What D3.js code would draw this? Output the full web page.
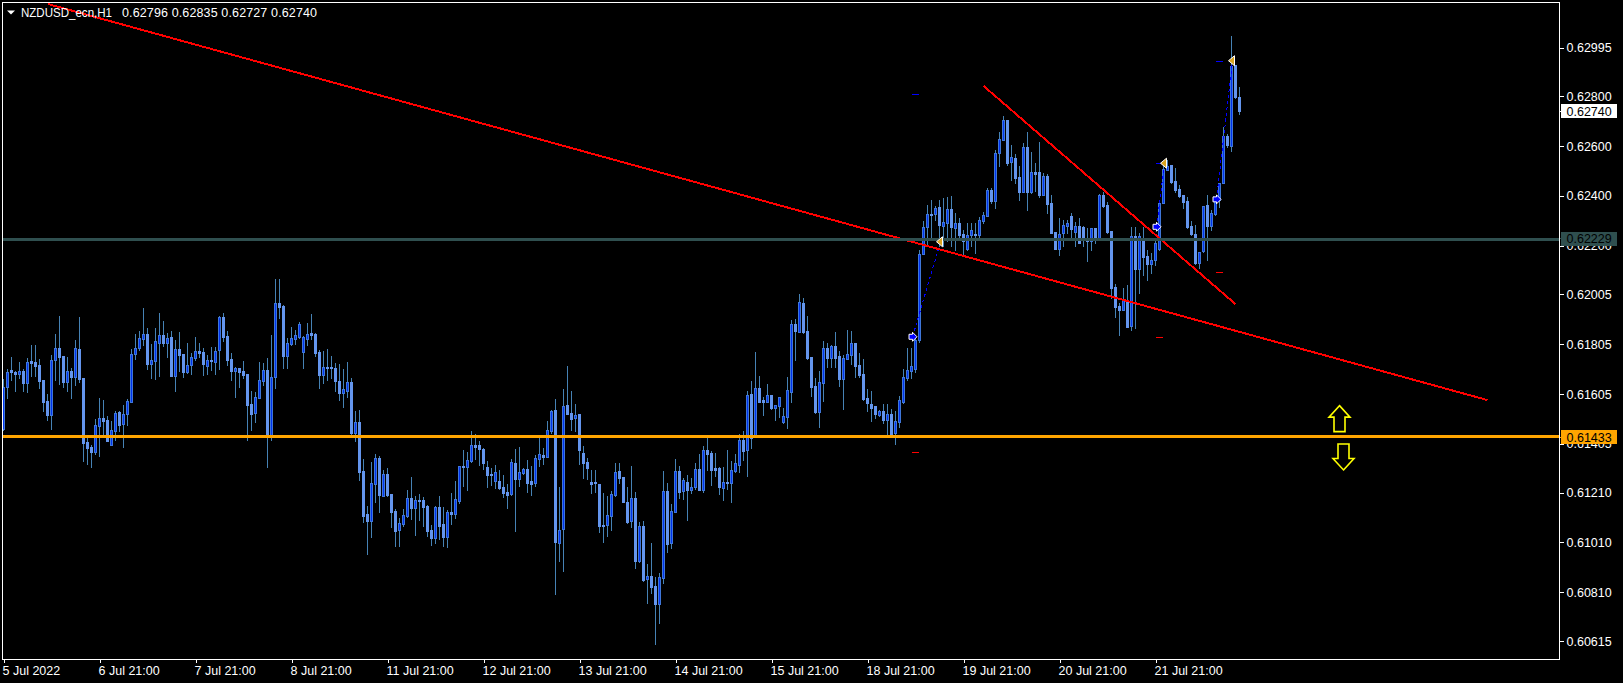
<!DOCTYPE html>
<html><head><meta charset="utf-8">
<script src="https://cdn.jsdelivr.net/npm/d3@7"></script>
<style>
html,body{margin:0;padding:0;background:#000;overflow:hidden}
svg{display:block}
text{font-family:"Liberation Sans",Arial,sans-serif;font-size:12.5px;fill:#fff}
</style></head><body>
<svg id="c" width="1623" height="683"></svg>
<script>
// Hourly candles, prices in points (1e-5)
const opens=[61464,61635,61702,61694,61687,61697,61651,61738,61734,61722,
61662,61578,61523,61742,61790,61758,61655,61698,61674,61786,
61670,61413,61393,61374,61479,61509,61501,61399,61459,61534,
61487,61524,61575,61765,61788,61828,61846,61727,61739,61812,
61842,61812,61834,61679,61786,61766,61694,61723,61750,61778,
61774,61719,61742,61735,61780,61915,61838,61746,61699,61710,
61697,61686,61566,61531,61591,61659,61702,61435,61673,61971,
61959,61756,61808,61828,61836,61775,61826,61850,61846,61774,
61682,61714,61714,61710,61658,61611,61619,61654,61449,61493,
61297,61124,61096,61246,61349,61198,61285,61204,61136,61060,
61084,61116,61188,61150,61180,61180,61156,61060,61028,61152,
61084,61032,61132,61125,61176,61317,61313,61338,61401,61401,
61385,61313,61285,61256,61256,61232,61212,61204,61329,61264,
61289,61305,61256,61248,61346,61361,61354,61457,61541,61008,
61064,61561,61529,61509,61525,61369,61333,61252,61252,61244,
61080,61080,61116,61200,61297,61272,61172,61096,61188,60936,
61076,60863,60875,60835,60763,60867,61216,61008,61132,61297,
61216,61252,61220,61232,61305,61220,61381,61369,61309,61309,
61228,61252,61248,61297,61321,61421,61381,61605,61441,61629,
61581,61573,61601,61549,61557,61493,61513,61615,61887,61854,
61971,61858,61754,61638,61534,61650,61790,61750,61798,61758,
61666,61747,61762,61810,61722,61686,61590,61566,61558,61522,
61538,61501,61526,61449,61493,61573,61670,61698,61706,61822,
62167,62277,62329,62328,62356,62279,62293,62348,62273,62290,
62246,62187,62242,62247,62242,62298,62321,62422,62381,62570,
62624,62705,62537,62552,62476,62416,62596,62416,62496,62496,
62404,62480,62372,62255,62187,62251,62279,62320,62255,62279,
62275,62231,62219,62270,62233,62404,62364,62259,62035,61957,
61943,61983,61878,62239,62107,62219,62159,62127,62143,62187,
62372,62504,62524,62460,62428,62404,62380,62279,62247,62131,
62179,62362,62279,62326,62383,62450,62640,62600,62924,62796];
const closes=[61635,61695,61695,61686,61697,61651,61733,61731,61718,61658,
61574,61522,61742,61789,61753,61654,61697,61674,61789,61666,
61409,61389,61373,61480,61508,61497,61417,61460,61528,61481,
61524,61576,61766,61789,61829,61845,61726,61741,61817,61841,
61809,61829,61678,61785,61762,61694,61721,61753,61777,61770,
61726,61741,61739,61777,61913,61834,61742,61698,61709,61694,
61682,61562,61526,61592,61661,61701,61435,61673,61969,61955,
61758,61809,61829,61841,61885,61833,61846,61842,61771,61682,
61712,61711,61711,61658,61609,61624,61652,61449,61492,61293,
61116,61096,61247,61347,61200,61285,61200,61132,61056,61087,
61119,61188,61148,61179,61176,61152,61056,61028,61152,61076,
61032,61132,61124,61183,61317,61313,61339,61400,61393,61385,
61329,61281,61281,61293,61228,61208,61200,61331,61264,61293,
61303,61248,61244,61347,61363,61353,61461,61537,61012,61060,
61557,61525,61505,61521,61381,61329,61309,61244,61248,61076,
61076,61119,61204,61293,61269,61172,61092,61188,60936,61076,
60859,60875,60831,60763,60871,61216,61004,61136,61297,61212,
61260,61220,61232,61305,61220,61381,61365,61301,61301,61232,
61252,61248,61301,61329,61421,61377,61601,61428,61629,61573,
61573,61601,61548,61561,61593,61517,61621,61885,61858,61973,
61853,61749,61634,61532,61653,61789,61750,61798,61750,61666,
61749,61765,61809,61718,61682,61586,61570,61550,61526,61536,
61501,61526,61445,61497,61580,61674,61702,61718,61822,62167,
62275,62326,62324,62352,62283,62294,62346,62275,62290,62242,
62218,62243,62262,62243,62302,62322,62422,62380,62571,62627,
62703,62532,62555,62472,62416,62595,62416,62495,62488,62404,
62480,62368,62251,62187,62246,62283,62290,62267,62279,62211,
62223,62219,62270,62230,62402,62360,62255,62031,61955,61943,
61983,61874,62239,62107,62239,62155,62127,62143,62211,62372,
62508,62520,62456,62424,62400,62376,62275,62247,62131,62175,
62358,62279,62330,62383,62450,62640,62604,62922,62796,62740];
const highs=[61666,61705,61753,61699,61734,61706,61749,61800,61800,61746,
61662,61606,61762,61846,61919,61758,61753,61709,61822,61915,
61670,61435,61401,61504,61590,61582,61517,61497,61538,61538,
61560,61584,61786,61846,61858,61951,61869,61805,61870,61931,
61899,61849,61858,61822,61854,61766,61809,61769,61834,61809,
61788,61762,61794,61794,61919,61931,61858,61769,61713,61710,
61738,61686,61618,61614,61733,61729,61749,61842,62067,62067,
61963,61830,61874,61862,61893,61838,61890,61926,61850,61782,
61778,61786,61758,61731,61726,61706,61734,61670,61537,61541,
61345,61156,61333,61365,61357,61301,61309,61204,61144,61108,
61144,61220,61272,61196,61204,61191,61160,61080,61156,61196,
61152,61140,61208,61256,61317,61381,61373,61457,61445,61417,
61389,61337,61309,61321,61301,61281,61244,61345,61385,61393,
61309,61341,61317,61361,61429,61389,61497,61541,61585,61232,
61625,61718,61617,61565,61525,61397,61349,61301,61301,61244,
61207,61196,61216,61329,61329,61272,61232,61317,61212,61092,
61096,60924,61008,60871,60887,61297,61248,61166,61345,61317,
61268,61280,61268,61329,61365,61397,61434,61377,61369,61313,
61313,61381,61337,61365,61445,61457,61617,61658,61774,61678,
61593,61646,61601,61561,61593,61549,61674,61901,61905,62007,
61991,61919,61754,61670,61698,61818,61810,61802,61854,61778,
61762,61862,61858,61810,61770,61746,61626,61618,61558,61540,
61566,61566,61546,61538,61598,61706,61790,61790,61834,62183,
62299,62364,62382,62360,62384,62390,62394,62401,62330,62310,
62263,62290,62290,62290,62314,62337,62430,62430,62584,62658,
62721,62705,62604,62568,62520,62611,62658,62575,62531,62616,
62491,62488,62404,62255,62310,62304,62304,62330,62297,62310,
62279,62270,62270,62270,62408,62417,62377,62259,62047,61969,
62029,62043,62277,62277,62250,62277,62183,62170,62223,62372,
62531,62544,62524,62513,62444,62404,62397,62299,62283,62175,
62358,62404,62343,62396,62453,62677,62650,63041,62924,62835];
const lows=[61461,61591,61662,61618,61671,61618,61615,61678,61678,61630,
61536,61501,61465,61662,61646,61635,61618,61590,61642,61655,
61337,61325,61313,61365,61357,61435,61417,61399,61421,61459,
61393,61481,61575,61747,61780,61800,61705,61670,61667,61678,
61796,61753,61678,61619,61699,61675,61690,61687,61742,61753,
61682,61686,61702,61686,61706,61818,61722,61662,61595,61635,
61669,61421,61461,61493,61588,61642,61314,61421,61631,61912,
61710,61710,61800,61808,61832,61711,61802,61826,61759,61629,
61648,61662,61671,61617,61581,61553,61593,61445,61417,61260,
61092,60964,61032,61172,61132,61196,61196,61072,60996,60996,
61076,61112,61104,61040,61100,61076,61036,61000,61008,61024,
60996,60992,61084,61108,61167,61236,61220,61333,61345,61321,
61305,61232,61240,61228,61224,61192,61148,61200,61056,61236,
61285,61212,61200,61236,61317,61325,61354,61449,60803,60936,
60895,61525,61461,61457,61325,61269,61264,61208,61212,61052,
61012,61036,61060,61196,61248,61172,61088,61072,60908,60932,
60855,60767,60807,60603,60687,60847,60972,60988,61132,61188,
61184,61100,61208,61224,61220,61212,61301,61240,61277,61204,
61180,61224,61172,61293,61293,61341,61277,61389,61434,61573,
61521,61573,61545,61501,61513,61489,61469,61574,61742,61853,
61850,61746,61598,61530,61473,61578,61714,61714,61714,61638,
61546,61746,61726,61674,61674,61582,61538,61497,61509,61518,
61489,61441,61441,61405,61475,61571,61662,61670,61694,61815,
62167,62207,62237,62304,62199,62197,62221,62197,62183,62237,
62163,62183,62197,62170,62237,62293,62320,62370,62352,62520,
62624,62524,62464,62451,62384,62416,62344,62410,62421,62397,
62404,62330,62250,62187,62163,62197,62250,62237,62197,62210,
62197,62139,62183,62210,62223,62357,62250,61989,61916,61842,
61943,61874,61862,61869,62009,62083,62063,62090,62123,62183,
62370,62504,62451,62417,62397,62350,62270,62243,62127,62110,
62175,62143,62263,62323,62356,62450,62597,62581,62791,62727];

const priceTicks=["0.62995","0.62800","0.62600","0.62400","0.62200","0.62005","0.61805","0.61605","0.61405","0.61210","0.61010","0.60810","0.60615"];
const timeTicks=["5 Jul 2022","6 Jul 21:00","7 Jul 21:00","8 Jul 21:00","11 Jul 21:00","12 Jul 21:00","13 Jul 21:00","14 Jul 21:00","15 Jul 21:00","18 Jul 21:00","19 Jul 21:00","20 Jul 21:00","21 Jul 21:00"];
const barsPerTick=24;
const symbol="NZDUSD_ecn,H1";
const quote="0.62796 0.62835 0.62727 0.62740";
const lastPrice="0.62740", grayLevel="0.62229", orangeLevel="0.61433";
// trend lines: [bar, price] pairs
const trendA=[[11.2,63169],[371,61581]];
const trendB=[[245,62841],[308,61966]];
// closed trades: entry bar/price, exit bar/price, take profit, stop loss
const tradeEntryBar=[227,288,303];
const tradeEntry=[61835,62276,62386];
const tradeExitBar=[234,290,307];
const tradeExit=[62216,62531,62942];
const tradeTP=[62807,62531,62940];
const tradeSL=[61372,61833,62094];
// hollow yellow arrows: bar, tip price
const upArrow=[334,61559];
const downArrow=[335,61301];

const W=1623,H=683,L=2.5,R=1559.5,T=2.5,B=659.5;
const pt=v=>v/1e5;
const x=d3.scaleLinear().domain([0,1]).range([3.5,7.5]);
const y=d3.scaleLinear().domain([0.62995,0.60615]).range([47.5,641]);
const Y=v=>Math.round(y(pt(v)));
const svg=d3.select("#c");
svg.append("defs").append("clipPath").attr("id","plot").append("rect")
  .attr("x",L).attr("y",T).attr("width",R-L).attr("height",B-T);

const g=svg.append("g").attr("clip-path","url(#plot)");
const bars=d3.range(opens.length);
const cG=g.append("g").attr("shape-rendering","crispEdges");
cG.selectAll(".w").data(bars).join("line")
  .attr("x1",i=>x(i)).attr("x2",i=>x(i)).attr("y1",i=>Y(highs[i])).attr("y2",i=>Y(lows[i])+1)
  .attr("stroke","#4682b4").attr("stroke-width",1);
cG.selectAll(".b").data(bars).join("rect")
  .attr("x",i=>x(i)-1.5).attr("width",3)
  .attr("y",i=>Y(Math.max(opens[i],closes[i])))
  .attr("height",i=>Math.max(1,Math.abs(Y(opens[i])-Y(closes[i]))+1))
  .attr("fill",i=>closes[i]>opens[i]?"#3f76d8":"#6495ed");
cG.selectAll(".u").data(bars.filter(i=>closes[i]>opens[i]&&Math.abs(Y(opens[i])-Y(closes[i]))>=2)).join("rect")
  .attr("x",i=>x(i)-0.5).attr("width",1)
  .attr("y",i=>Y(closes[i])+1)
  .attr("height",i=>Y(opens[i])-Y(closes[i])-1)
  .attr("fill",i=>"#0033ee");

// trade connectors and level dashes
tradeEntry.forEach((p,k)=>{
  g.append("line").attr("x1",x(tradeEntryBar[k])+1).attr("y1",Y(p))
   .attr("x2",x(tradeExitBar[k])+1).attr("y2",Y(tradeExit[k]))
   .attr("stroke","#0000ff").attr("stroke-width",1).attr("stroke-dasharray","3 3").attr("shape-rendering","crispEdges");
  g.append("line").attr("x1",x(tradeEntryBar[k])+0.5).attr("x2",x(tradeEntryBar[k])+7.5)
   .attr("y1",Y(tradeTP[k])+.5).attr("y2",Y(tradeTP[k])+.5).attr("stroke","#0000ff").attr("shape-rendering","crispEdges");
  g.append("line").attr("x1",x(tradeEntryBar[k])+0.5).attr("x2",x(tradeEntryBar[k])+7.5)
   .attr("y1",Y(tradeSL[k])+.5).attr("y2",Y(tradeSL[k])+.5).attr("stroke","#ff0000").attr("shape-rendering","crispEdges");
});

// trend lines
const ln=d3.line().x(d=>x(d[0])).y(d=>y(pt(d[1])));
[trendA,trendB].forEach(t=>g.append("path").attr("d",ln(t)).attr("fill","none").attr("stroke","#ff0000").attr("stroke-width",2).attr("shape-rendering","crispEdges"));

// horizontal levels
g.append("line").attr("x1",L).attr("x2",R).attr("y1",Y(+grayLevel*1e5)+.5).attr("y2",Y(+grayLevel*1e5)+.5).attr("stroke","#2f4f4f").attr("stroke-width",3).attr("shape-rendering","crispEdges");
g.append("line").attr("x1",L).attr("x2",R).attr("y1",Y(+orangeLevel*1e5)-.5).attr("y2",Y(+orangeLevel*1e5)-.5).attr("stroke","#ffa500").attr("stroke-width",3).attr("shape-rendering","crispEdges");

// trade markers
tradeEntry.forEach((p,k)=>{
  const ex=x(tradeEntryBar[k])+1,ey=y(pt(p));
  g.append("path").attr("transform",`translate(${ex},${ey})`)
   .attr("d","M-3.5,-2.5L0,-2.5L0,-4.5L4.5,0L0,4.5L0,2.5L-3.5,2.5Z").attr("fill","#0000ff").attr("stroke","#fff").attr("stroke-width",1);
  const tx=x(tradeExitBar[k])+1,ty=y(pt(tradeExit[k]));
  g.append("path").attr("transform",`translate(${tx},${ty})`)
   .attr("d","M-4,0L2,-5L2,5Z").attr("fill","#daa520").attr("stroke","#fff").attr("stroke-width",1);
});

// hollow arrows
g.append("path").attr("transform",`translate(${x(upArrow[0])},${y(pt(upArrow[1]))})`)
 .attr("d","M0,0L10.5,11.5L5.5,11.5L5.5,26L-5.5,26L-5.5,11.5L-10.5,11.5Z").attr("fill","#000").attr("stroke","#ffff00").attr("stroke-width",1.6);
g.append("path").attr("transform",`translate(${x(downArrow[0])},${y(pt(downArrow[1]))})`)
 .attr("d","M0,0L10.5,-11.5L5.5,-11.5L5.5,-26L-5.5,-26L-5.5,-11.5L-10.5,-11.5Z").attr("fill","#000").attr("stroke","#ffff00").attr("stroke-width",1.6);

// frame
svg.append("rect").attr("x",L).attr("y",T).attr("width",R-L).attr("height",B-T)
  .attr("fill","none").attr("stroke","#fff").attr("stroke-width",1).attr("shape-rendering","crispEdges");

// axes
const yAxis=d3.axisRight(y).tickValues(priceTicks.map(Number)).tickFormat(d3.format(".5f")).tickSize(4).tickPadding(3);
const ya=svg.append("g").attr("transform",`translate(${R},0)`).call(yAxis);
ya.select(".domain").remove();
ya.selectAll("line").attr("stroke","#fff").attr("shape-rendering","crispEdges");
ya.selectAll("text").attr("fill","#fff").style("font-family",'"Liberation Sans",Arial,sans-serif').style("font-size","12.5px");

const xAxis=d3.axisBottom(x).tickValues(timeTicks.map((_,k)=>k*barsPerTick)).tickFormat((d,k)=>timeTicks[k]).tickSize(3).tickPadding(4);
const xa=svg.append("g").attr("transform",`translate(0,${B})`).call(xAxis);
xa.select(".domain").remove();
xa.selectAll("line").attr("stroke","#fff").attr("shape-rendering","crispEdges");
xa.selectAll("text").attr("text-anchor","start").attr("dx",-1.5).attr("fill","#fff").style("font-family",'"Liberation Sans",Arial,sans-serif').style("font-size","12.5px");

// price tags
function tag(v,bg,fg){
  const c=y(+v);
  svg.append("rect").attr("x",1561).attr("y",Math.round(c-7)).attr("width",56).attr("height",14).attr("fill",bg);
  svg.append("line").attr("x1",R).attr("x2",R+4).attr("y1",c).attr("y2",c).attr("stroke",bg).attr("shape-rendering","crispEdges");
  svg.append("text").attr("x",1566.5).attr("y",c+4.5).style("fill",fg).text(v);
}
tag(grayLevel,"#2f4f4f","#000");
tag(orangeLevel,"#ffa500","#000");
tag(lastPrice,"#fff","#000");

// header
svg.append("path").attr("d","M7,10.5L15,10.5L11,14.5Z").attr("fill","#fff");
svg.append("text").attr("x",21).attr("y",17).attr("textLength",91).attr("lengthAdjust","spacingAndGlyphs").text(symbol);
svg.append("text").attr("x",122).attr("y",17).attr("textLength",195).text(quote);
</script>
</body></html>
